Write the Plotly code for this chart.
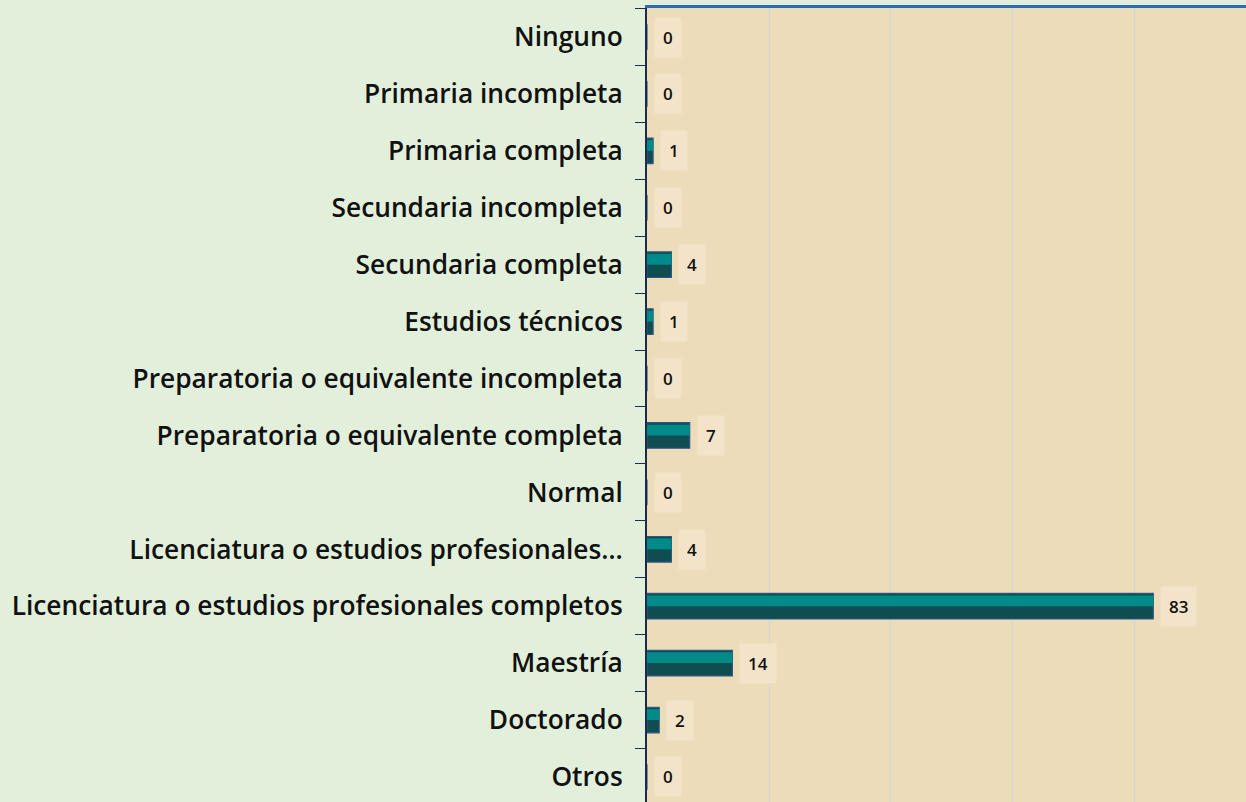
import plotly.graph_objects as go

categories = [
    "Ninguno",
    "Primaria incompleta",
    "Primaria completa",
    "Secundaria incompleta",
    "Secundaria completa",
    "Estudios técnicos",
    "Preparatoria o equivalente incompleta",
    "Preparatoria o equivalente completa",
    "Normal",
    "Licenciatura o estudios profesionales…",
    "Licenciatura o estudios profesionales completos",
    "Maestría",
    "Doctorado",
    "Otros",
]
values = [0, 0, 1, 0, 4, 1, 0, 7, 0, 4, 83, 14, 2, 0]

FONT = "Open Sans"
fig = go.Figure()
# dark lower/base part of bevelled bar
fig.add_trace(go.Bar(
    x=values, y=categories, orientation="h",
    width=0.45, offset=-0.225,
    marker=dict(color="#0f4d50", line=dict(color="#2f5886", width=1.2)),
    hoverinfo="x+y", showlegend=False,
))
# lighter top half
fig.add_trace(go.Bar(
    x=values, y=categories, orientation="h",
    width=0.19, offset=-0.19,
    marker=dict(color="#008b88", line=dict(width=0)),
    hoverinfo="skip", showlegend=False,
))

for c, v in zip(categories, values):
    fig.add_annotation(
        x=v, y=c, xref="x", yref="y", text=str(v),
        showarrow=False, xanchor="left", xshift=7,
        font=dict(family=FONT, size=17, color="#111111", weight=600),
        bgcolor="#f3e4c9", borderpad=8,
    )

fig.update_layout(
    width=1246, height=802,
    margin=dict(l=647, r=0, t=8, b=0),
    paper_bgcolor="#e2efda",
    plot_bgcolor="#eddcb9",
    barmode="overlay",
    font=dict(family=FONT, color="#111111"),
    xaxis=dict(
        range=[0, 98.2], dtick=20, showticklabels=False,
        showgrid=True, gridcolor="#d4d4dc", gridwidth=1,
        zeroline=False, showline=True, linecolor="#2e6db4", linewidth=3,
        side="top", ticks="",
    ),
    yaxis=dict(
        categoryorder="array", categoryarray=categories,
        range=[13.44, -0.51],
        showline=True, linecolor="#1d2b4a", linewidth=2,
        ticks="outside", tickson="boundaries", ticklen=10, tickcolor="#1d2b4a",
        tickfont=dict(family=FONT, size=26.3, color="#111111", weight=600),
        ticklabelstandoff=17, showgrid=False,
    ),
)

fig.write_html(
    "out.html",
    config={"displayModeBar": False},
    post_script="document.body.style.margin='0';document.body.style.overflow='hidden';document.body.style.background='#e2efda';",
)
